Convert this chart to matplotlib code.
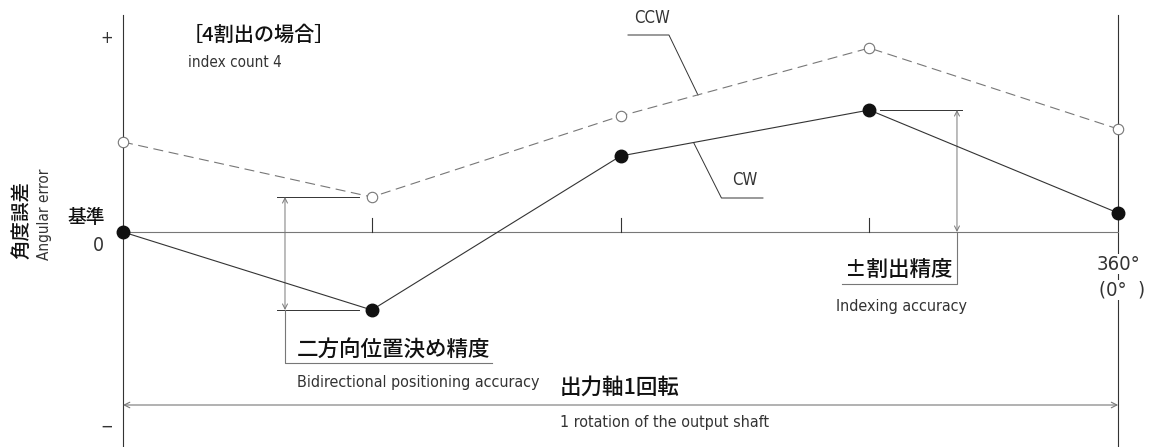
import matplotlib
matplotlib.use("Agg")
import matplotlib.pyplot as plt

plt.rcParams['font.family'] = ['Noto Sans CJK JP', 'DejaVu Sans']

# データ（任意単位、0 = 基準）
angles   = [0, 90, 180, 270, 360]
cw_err   = [0.0, -7.8, 7.6, 12.2, 1.9]
ccw_err  = [9.0, 3.5, 11.6, 18.4, 10.3]
tick_pos = [90, 180, 270]

LINE = "#333333"
GREY = "#777777"
EN = dict(family="DejaVu Sans", fontstretch="condensed", color="#333333")
JP = dict(fontweight="medium", color="#111111")

fig = plt.figure(figsize=(11.56, 4.47), dpi=100)
ax = fig.add_axes([0, 0, 1, 1])
ax.set_xlim(-44.5, 373.7)
ax.set_ylim(-21.5, 23.2)
ax.axis("off")

# ── 軸 ───────────────────────────────
ax.plot([0, 0], [-21.5, 21.7], color=LINE, lw=0.8)
ax.plot([360, 360], [-21.5, 21.7], color=LINE, lw=0.8)
ax.plot([0, 360], [0, 0], color=GREY, lw=0.8)
for t in tick_pos:
    ax.plot([t, t], [0, 1.4], color=LINE, lw=0.8)

# ── 系列 ─────────────────────────────
ax.plot(angles, ccw_err, color=GREY, lw=0.8, ls=(0, (9, 5)),
        marker="o", ms=7.5, mfc="white", mec=GREY, mew=0.8, zorder=3)
ax.plot(angles, cw_err, color=LINE, lw=0.8,
        marker="o", ms=9, mfc="#111111", mec="#111111", zorder=4)

# ── テキスト ─────────────────────────
ax.text(21.5, 19.7, "［4割出の場合］", fontsize=14.5, va="center", ha="left", **JP)
ax.text(23.6, 17.0, "index count 4", fontsize=11, va="center", ha="left", **EN)
ax.text(-36.5, 1.2, "角度誤差", fontsize=14, rotation=90, va="center",
        ha="center", **JP)
ax.text(-28.5, 1.8, "Angular error", fontsize=11, rotation=90,
        va="center", ha="center", **EN)
ax.text(-13.5, 1.5, "基準", fontsize=13.5, va="center", ha="center", **JP)
ax.text(-9, -1.3, "0", fontsize=14, va="center", ha="center", **EN)
ax.text(-6, 19.4, "+", fontsize=12, va="center", ha="center", **EN)
ax.text(-6, -19.5, "−", fontsize=12, va="center", ha="center", **EN)

white = dict(facecolor="white", edgecolor="none", pad=0.5)
ax.text(360, -3.2, "360°", fontsize=14.5, va="center", ha="center",
        bbox=white, zorder=5, **EN)
ax.text(361.5, -5.8, "(0°  )", fontsize=14.5, va="center", ha="center",
        bbox=white, zorder=5, **EN)

# CCW / CW 引出線
ax.text(191.5, 21.4, "CCW", fontsize=12, va="center", ha="center", **EN)
ax.plot([182.7, 197.5, 208.0], [19.7, 19.7, 13.7], color=LINE, lw=0.7)
ax.text(225.0, 5.2, "CW", fontsize=12, va="center", ha="center", **EN)
ax.plot([206.5, 216.5, 231.5], [8.9, 3.4, 3.4], color=LINE, lw=0.7)

# ── 二方向位置決め精度 ───────────────
ax.plot([55.7, 85.5], [ccw_err[1], ccw_err[1]], color=LINE, lw=0.7)
ax.plot([55.7, 85.5], [cw_err[1], cw_err[1]], color=LINE, lw=0.7)
ax.annotate("", xy=(58.6, ccw_err[1]), xytext=(58.6, cw_err[1]),
            arrowprops=dict(arrowstyle="<->", color=GREY, lw=0.7,
                            mutation_scale=9, shrinkA=0, shrinkB=0))
ax.plot([58.6, 58.6, 133.5], [cw_err[1], -13.1, -13.1], color=GREY, lw=0.8)
ax.text(62.8, -11.8, "二方向位置決め精度", fontsize=15.5, va="center",
        ha="left", **JP)
ax.text(63.0, -15.1, "Bidirectional positioning accuracy", fontsize=11.5,
        va="center", ha="left", **EN)

# ── ±割出精度 ────────────────────────
ax.plot([273.9, 303.5], [cw_err[3], cw_err[3]], color=LINE, lw=0.7)
ax.annotate("", xy=(301.7, cw_err[3]), xytext=(301.7, 0),
            arrowprops=dict(arrowstyle="<->", color=GREY, lw=0.7,
                            mutation_scale=9, shrinkA=0, shrinkB=0))
ax.plot([301.7, 301.7, 260.0], [0, -5.2, -5.2], color=GREY, lw=0.8)
ax.text(280.5, -3.8, "±割出精度", fontsize=15.5, va="center", ha="center", **JP)
ax.text(281.5, -7.4, "Indexing accuracy", fontsize=11.5, va="center",
        ha="center", **EN)

# ── 出力軸1回転 ──────────────────────
ax.annotate("", xy=(0, -17.3), xytext=(360, -17.3),
            arrowprops=dict(arrowstyle="<->", color=GREY, lw=0.8,
                            mutation_scale=10, shrinkA=0, shrinkB=0))
ax.text(158.0, -15.6, "出力軸1回転", fontsize=15.5, va="center", ha="left", **JP)
ax.text(158.0, -19.1, "1 rotation of the output shaft", fontsize=11.5,
        va="center", ha="left", **EN)

fig.savefig("out.png", dpi=100)
